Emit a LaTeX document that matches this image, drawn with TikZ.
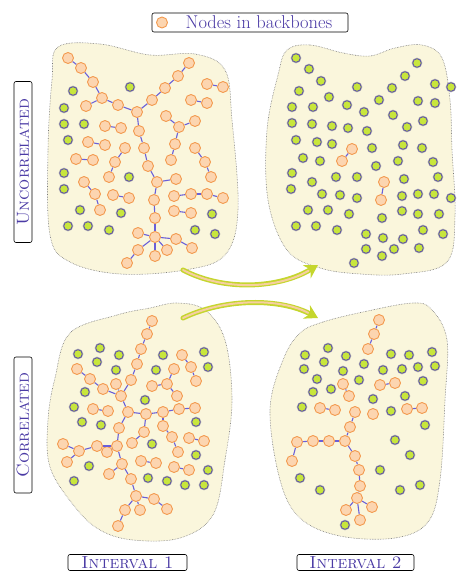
\documentclass[tikz,border=0pt]{standalone}
\usetikzlibrary{arrows.meta}
\definecolor{cream}{HTML}{FAF6DC}
\definecolor{blobline}{HTML}{777777}
\definecolor{orbd}{HTML}{F39A4F}
\definecolor{orfill}{HTML}{FCD5B0}
\definecolor{gnfill}{HTML}{C8E63C}
\definecolor{gnbd}{HTML}{5B4DA8}
\definecolor{edgec}{HTML}{6A5FD8}
\definecolor{txt}{HTML}{4B3BA5}
\definecolor{arrg}{HTML}{C5D62E}
\definecolor{arrp}{HTML}{F6CFA0}
\tikzset{
  on/.style={circle,draw=orbd,fill=orfill,line width=0.9pt,minimum size=11pt,inner sep=0pt},
  gn/.style={circle,preaction={draw=black!30,line width=2pt},draw=gnbd,fill=gnfill,line width=0.8pt,minimum size=8.5pt,inner sep=0pt},
  ed/.style={draw=edgec,line width=1.1pt},
  blob/.style={fill=cream,draw=blobline,densely dotted,line width=0.6pt},
  lab/.style={draw=black,rounded corners=2pt,fill=white,text=txt,inner sep=1pt,line width=0.6pt,font=\fontsize{17.5}{19}\selectfont},
}
\begin{document}
\begin{tikzpicture}[x=1pt,y=-1pt]
\useasboundingbox (0,0) rectangle (462,572);
% blobs
\draw[blob] plot[smooth cycle,tension=0.6] coordinates {(58,47) (100,44) (150,55) (195,54) (225,70) (232,120) (238,210) (225,255) (185,270) (120,274) (70,262) (50,235) (48,150) (52,80)};
\draw[blob] plot[smooth cycle,tension=0.6] coordinates {(287,50) (310,45) (343,53) (370,56) (395,48) (422,45) (442,58) (450,100) (452,150) (455,215) (447,262) (403,274) (360,274) (320,268) (287,250) (268,200) (267,130) (278,75)};
\draw[blob] plot[smooth cycle,tension=0.6] coordinates {(70,333) (117,315) (150,308) (177,303) (205,310) (225,340) (232,400) (225,460) (213,515) (180,538) (133,540) (100,530) (75,507) (50,467) (48,420) (55,378)};
\draw[blob] plot[smooth cycle,tension=0.6] coordinates {(300,333) (323,322) (363,312) (413,303) (432,310) (447,340) (445,400) (440,480) (428,522) (395,538) (340,536) (300,518) (280,480) (270,410) (283,360)};
% arrows
\coordinate (a1s) at (183,270); \coordinate (a1e) at (318,265);
\coordinate (a2s) at (183,318); \coordinate (a2e) at (318,318);
\draw[arrg,line width=5pt,line cap=round,-{Stealth[length=13pt,width=15pt]}] (a1s) .. controls (225,292) and (280,288) .. (a1e);
\draw[arrp,line width=2pt,line cap=round,shorten >=11pt] (a1s) .. controls (225,292) and (280,288) .. (a1e);
\draw[arrg,line width=5pt,line cap=round,-{Stealth[length=13pt,width=15pt]}] (a2s) .. controls (225,298) and (280,298) .. (a2e);
\draw[arrp,line width=2pt,line cap=round,shorten >=11pt] (a2s) .. controls (225,298) and (280,298) .. (a2e);
% labels
\node[lab,minimum width=196pt,minimum height=19pt,font=\fontsize{18.5}{20}\selectfont] (leg) at (250,22.5) {\hspace*{18pt}Nodes in backbones};
\node[on] (legdot) at (162,22.5) {};
\node[lab,rotate=90,minimum width=161pt,minimum height=18pt] (unc) at (23,162) {\textsc{Uncorrelated}};
\node[lab,rotate=90,minimum width=136pt,minimum height=18pt] (cor) at (23,425) {\textsc{Correlated}};
\node[lab,minimum width=119pt,minimum height=16pt,inner sep=0.5pt] (int1) at (127.5,562.5) {\textsc{Interval 1}};
\node[lab,minimum width=117pt,minimum height=16pt,inner sep=0.5pt] (int2) at (355.5,562.5) {\textsc{Interval 2}};
% ---------- panel 1 ----------
\foreach \n/\x/\y in {a1/68/58,a2/81/68,a3/93/82,a4/102/98,a5/86/106,a6/118/105,a7/137/112,a8/152/100,a9/165/88,a10/178/76,a11/189/63,
 b1/207/84,b2/223/87,c1/191/100,c2/207/103,d1/166/116,d2/179/127,d3/195/121,d4/175/144,d5/171/160,e1/105/126,e2/121/128,
 f1/139/131,f2/144/148,f3/148/166,f4/157/182,f5/176/179,f6/154/200,f7/155/218,f8/155/237,g1/88/142,g2/105/145,
 h1/125/148,h2/115/162,h3/109/177,i1/195/148,i2/205/162,i3/211/177,j1/76/159,j2/93/160,k1/84/182,k2/95/194,k3/100/210,
 l1/113/195,l2/129/198,m1/174/196,m2/191/194,m3/207/194,m4/223/198,n1/174/211,n2/191/213,
 o1/138/233,o2/176/239,o3/192/248,o4/138/250,o5/127/263,o6/155/256,o7/167/250}
 \node[on] (\n) at (\x,\y) {};
\foreach \a/\b in {a1/a2,a2/a3,a3/a4,a4/a5,a4/a6,a6/a7,a7/a8,a8/a9,a9/a10,a10/a11,b1/b2,c1/c2,d1/d2,d2/d3,d2/d4,d4/d5,e1/e2,
 a7/f1,f1/f2,f2/f3,f3/f4,f4/f5,f4/f6,f6/f7,f7/f8,g1/g2,h1/h2,h2/h3,i1/i2,i2/i3,j1/j2,k1/k2,k2/k3,l1/l2,m1/m2,m2/m3,m3/m4,n1/n2,
 f8/o1,f8/o2,o2/o3,f8/o4,o4/o5,f8/o6,f8/o7}
 \draw[ed] (\a) -- (\b);
\foreach [count=\i] \x/\y in {73/91,130/87,64/108,64/124,84/124,68/140,64/173,64/189,129/177,80/210,121/213,212/214,68/226,88/226,109/230,195/230,215/234}
 \node[gn] (ga\i) at (\x,\y) {};
% ---------- panel 2 ----------
\foreach [count=\i] \x/\y in {296/58,309/69,417/63,405/76,321/81,435/84,451/87,357/87,392/88,299/91,329/97,379/100,418/101,435/103,292/107,313/107,347/105,364/112,393/115,292/123,312/124,332/126,348/128,367/131,423/121,407/127,296/140,317/142,332/144,372/148,403/145,422/148,
 303/158,320/161,398/161,433/162,376/166,292/173,312/182,336/177,357/177,404/179,438/177,291/189,322/194,340/195,357/198,402/196,418/194,434/194,451/198,308/210,328/210,349/214,382/218,402/211,418/214,439/214,296/226,316/226,337/230,366/234,383/238,403/239,423/230,443/234,366/249,382/256,394/249,419/248,354/263}
 \node[gn] (gb\i) at (\x,\y) {};
\foreach \n/\x/\y in {q1/352/149,q2/342/161,r1/384/182,r2/381/200}
 \node[on] (\n) at (\x,\y) {};
\draw[ed] (q1) -- (q2); \draw[ed] (r1) -- (r2);
% ---------- panel 3 ----------
\foreach \n/\x/\y in {s1/152/321,s2/147/334,s3/141/349,s4/137/364,s5/131/380,s6/121/396,s7/116/384,t1/103/389,t2/90/379,t3/77/369,
 u1/128/412,u2/146/414,u3/163/412,u4/179/409,u5/195/408,v1/93/409,v2/108/411,w1/152/386,w2/167/384,w3/174/369,w4/177/396,
 x1/182/355,x2/191/367,x3/196/381,u6/119/428,u7/144/432,u8/132/443,y1/163/426,y2/172/437,y3/178/452,
 z0/117/446,z1/97/446,z2/79/451,z3/63/444,z4/67/462,z5/107/452,z6/122/464,z7/109/474,z8/131/479,z9/136/496,z10/154/499,z11/167/509,z12/140/510,z13/125/510,z14/118/526,
 pa1/189/438,pa2/204/441,pb1/141/461,pb2/156/463,pc1/174/467,pc2/189/470}
 \node[on] (\n) at (\x,\y) {};
\foreach \a/\b in {s1/s2,s2/s3,s3/s4,s4/s5,s5/s6,s6/s7,s6/t1,t1/t2,t2/t3,s6/u1,u1/u2,u2/u3,u3/u4,u4/u5,v1/v2,w1/w2,w2/w3,w2/w4,x1/x2,x2/x3,
 u1/u6,u2/u7,u7/u8,u3/y1,y1/y2,y2/y3,u6/z0,z0/z1,z1/z2,z2/z3,z2/z4,z0/z5,z0/z6,z6/z7,z6/z8,z8/z9,z9/z10,z10/z11,z9/z12,z9/z13,z13/z14,pa1/pa2,pb1/pb2,pc1/pc2}
 \draw[ed] (\a) -- (\b);
\foreach [count=\i] \x/\y in {100/348,78/354,119/355,97/362,116/370,163/355,156/370,204/352,208/367,85/392,145/400,74/407,82/422,101/425,196/422,152/444,196/455,89/466,208/470,74/481,148/478,167/481,185/485,204/485}
 \node[gn] (gc\i) at (\x,\y) {};
% ---------- panel 4 ----------
\foreach \n/\x/\y in {P1/379/320,P2/374/334,P3/368/349,Q1/343/384,Q2/349/396,R1/380/385,R2/395/383,S1/320/408,S2/335/410,
 T1/355/412,T2/350/427,T3/345/441,T4/329/441,T5/313/441,T6/297/442,T7/292/461,T8/355/456,T9/359/470,T10/360/486,T11/357/498,T12/346/510,T13/372/507,T14/360/520,
 U1/373/414,V1/407/409,V2/422/408}
 \node[on] (\n) at (\x,\y) {};
\foreach \a/\b in {P1/P2,P2/P3,Q1/Q2,R1/R2,S1/S2,T1/T2,T2/T3,T3/T4,T4/T5,T5/T6,T6/T7,T3/T8,T8/T9,T9/T10,T10/T11,T11/T12,T11/T13,T11/T14,V1/V2}
 \draw[ed] (\a) -- (\b);
\foreach [count=\i] \x/\y in {328/348,305/355,346/356,391/354,409/355,432/352,304/369,324/362,343/371,364/364,383/370,402/369,418/367,435/366,317/379,331/389,359/380,423/381,313/392,405/396,373/399,302/407,391/411,
 425/425,395/440,410/455,300/478,320/490,380/470,400/490,420/485,345/525}
 \node[gn] (gd\i) at (\x,\y) {};
\end{tikzpicture}
\end{document}
